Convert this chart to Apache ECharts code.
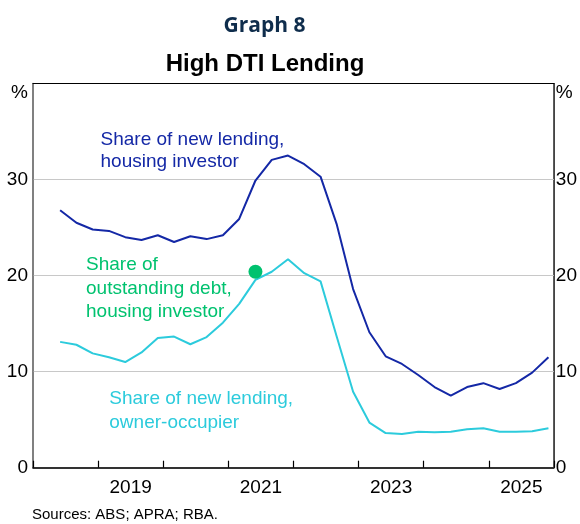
<!DOCTYPE html>
<html>
<head>
<meta charset="utf-8">
<script src="https://cdn.jsdelivr.net/npm/echarts@6/dist/echarts.min.js"></script>
<style>
html,body{margin:0;padding:0;background:#fff;}
#chart{width:580px;height:524px;}
</style>
</head>
<body>
<div id="chart"></div>
<script>
// Quarterly observations (dated at the last month of each quarter)
const quarters = ['2018-06','2018-09','2018-12',
  '2019-03','2019-06','2019-09','2019-12',
  '2020-03','2020-06','2020-09','2020-12',
  '2021-03','2021-06','2021-09','2021-12',
  '2022-03','2022-06','2022-09','2022-12',
  '2023-03','2023-06','2023-09','2023-12',
  '2024-03','2024-06','2024-09','2024-12',
  '2025-03','2025-06','2025-09','2025-12'];
const investorNewLending = [26.8,25.5,24.8,24.65,24.0,23.7,24.2,23.5,24.1,23.8,24.2,25.9,29.9,32.05,32.5,31.6,30.3,25.3,18.6,14.1,11.6,10.8,9.65,8.4,7.5,8.4,8.8,8.2,8.8,9.9,11.5];
const ownerOccNewLending = [13.1,12.8,11.9,11.5,11.0,12.0,13.5,13.65,12.85,13.6,15.1,17.05,19.55,20.4,21.7,20.25,19.4,13.6,7.9,4.7,3.6,3.5,3.75,3.7,3.75,4.0,4.1,3.75,3.75,3.8,4.1];
const debtDates = ['2021-06'];
const investorOutstandingDebt = [20.4];
const yearCategories = ['2018','2019','2020','2021','2022','2023','2024','2025'];
const yearTickLabels = ['','2019','','2021','','2023','','2025'];

const C_INV = '#1428a6', C_OWN = '#2ccbdc', C_DEBT = '#00c26f';
const FONT = 'Arial, "Liberation Sans", sans-serif';

function toYear(s){ const p = s.split('-'); return +p[0] + (+p[1]-1)/12; }
const pairs = (d, v) => d.map((q,i)=>[toYear(q), v[i]]);

const chart = echarts.init(document.getElementById('chart'), null, {renderer:'canvas'});
const yLabel = v => v === 40 ? '{p|%}' : String(v);
const yCommon = {
  type:'value', min:0, max:40, interval:10,
  axisTick:{show:false},
  axisLabel:{fontSize:19, color:'#000', fontFamily:FONT, formatter:yLabel,
    rich:{p:{fontSize:19, color:'#000', fontFamily:FONT, padding:[18,0,0,0]}}}
};
chart.setOption({
  animation:false,
  grid:{left:33, right:25, top:83.5, bottom:56.3, show:true, borderColor:'#000', borderWidth:1},
  xAxis:[
    {type:'value', min:2018, max:2026, interval:1, position:'bottom',
     axisLine:{lineStyle:{color:'#000', width:1.5}},
     axisTick:{inside:true, length:7, lineStyle:{color:'#000', width:1.2}},
     axisLabel:{show:false}, splitLine:{show:false}, z:10},
    {type:'category', data:yearCategories, position:'bottom', boundaryGap:true,
     axisLine:{show:false}, axisTick:{show:false}, splitLine:{show:false},
     axisLabel:{interval:0, margin:11, fontSize:19, color:'#000', fontFamily:FONT,
       formatter:(v,i)=>yearTickLabels[i]}},
    {type:'value', min:2018, max:2026, interval:1, position:'top',
     axisLine:{show:true, lineStyle:{color:'#000', width:1.2}},
     axisTick:{show:false}, axisLabel:{show:false}, splitLine:{show:false}, z:10}
  ],
  yAxis:[
    Object.assign({}, yCommon, {position:'left',
      axisLine:{show:true, lineStyle:{color:'#808080', width:1.5}},
      axisLabel:Object.assign({}, yCommon.axisLabel, {margin:5}),
      splitLine:{show:true, lineStyle:{color:'#c8c8c8', width:1.2}}}),
    Object.assign({}, yCommon, {position:'right',
      axisLine:{show:true, lineStyle:{color:'#444', width:1}},
      axisLabel:Object.assign({}, yCommon.axisLabel, {margin:2}),
      splitLine:{show:false}})
  ],
  series:[
    {type:'line', data:pairs(quarters, ownerOccNewLending), showSymbol:false,
     lineStyle:{color:C_OWN, width:2}, z:3},
    {type:'line', data:pairs(quarters, investorNewLending), showSymbol:false,
     lineStyle:{color:C_INV, width:2}, z:4},
    {type:'scatter', data:pairs(debtDates, investorOutstandingDebt), symbol:'circle', symbolSize:14,
     itemStyle:{color:C_DEBT, opacity:1}, z:5}
  ],
  graphic:[
    {type:'text', style:{text:'Graph 8', x:264.5, y:26, fill:'#0f2d4c',
      font:'bold 21px "Open Sans", sans-serif', textAlign:'center', textVerticalAlign:'middle'}},
    {type:'text', style:{text:'High DTI Lending', x:265, y:64, fill:'#000',
      font:'bold 24px Arial, "Liberation Sans", sans-serif', textAlign:'center', textVerticalAlign:'middle'}},
    {type:'text', style:{text:'Share of new lending,\nhousing investor', x:100.5, y:128.3, fill:C_INV,
      font:'19px Arial, "Liberation Sans", sans-serif', lineHeight:22.5, textVerticalAlign:'top'}},
    {type:'text', style:{text:'Share of\noutstanding debt,\nhousing investor', x:86, y:253, fill:C_DEBT,
      font:'19px Arial, "Liberation Sans", sans-serif', lineHeight:23.7, textVerticalAlign:'top'}},
    {type:'text', style:{text:'Share of new lending,\nowner-occupier', x:109.3, y:387.2, fill:C_OWN,
      font:'19px Arial, "Liberation Sans", sans-serif', lineHeight:23.7, textVerticalAlign:'top'}},
    {type:'text', style:{text:'Sources: ABS; APRA; RBA.', x:32, y:515, fill:'#000',
      font:'15px Arial, "Liberation Sans", sans-serif', textVerticalAlign:'middle'}}
  ]
});
</script>
</body>
</html>
